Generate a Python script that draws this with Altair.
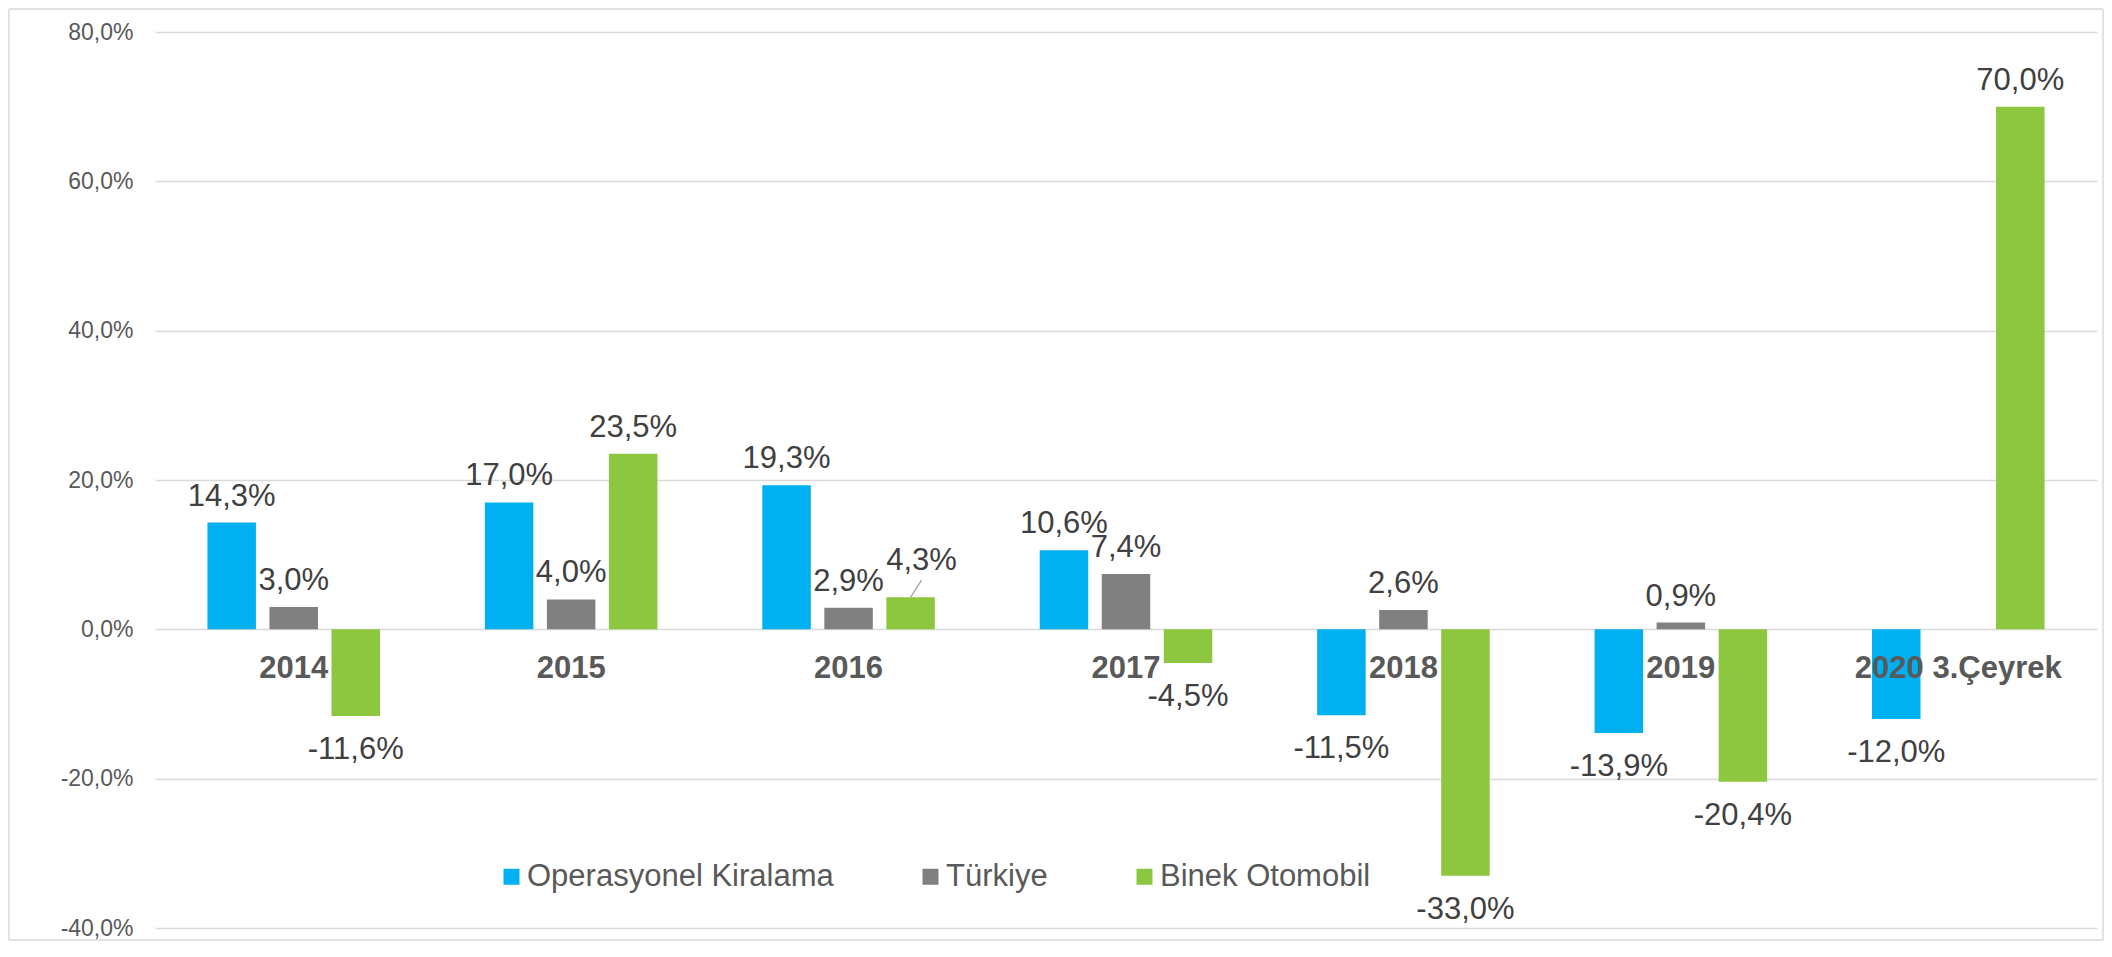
import altair as alt
import pandas as pd

# ---- data ----
categories = ["2014", "2015", "2016", "2017", "2018", "2019", "2020 3.Çeyrek"]
series_names = ["Operasyonel Kiralama", "Türkiye", "Binek Otomobil"]
operasyonel = [14.3, 17.0, 19.3, 10.6, -11.5, -13.9, -12.0]
turkiye = [3.0, 4.0, 2.9, 7.4, 2.6, 0.9, None]
binek = [-11.6, 23.5, 4.3, -4.5, -33.0, -20.4, 70.0]
y_ticks = [-40, -20, 0, 20, 40, 60, 80]
colors = ["#00B0F0", "#808080", "#8DC63F"]

rows = []
for s, vals in zip(series_names, [operasyonel, turkiye, binek]):
    for c, v in zip(categories, vals):
        if v is not None:
            rows.append({"cat": c, "series": s, "value": v})
df = pd.DataFrame(rows)
cat_df = pd.DataFrame({"cat": categories})
one_df = pd.DataFrame({"a": [0]})

W, H = 1942, 896
FONT = "Liberation Sans"
lbl_expr = ("(datum.value < 0 ? '-' : '') + "
            "replace(format(abs(datum.value), '.1f'), '.', ',') + '%'")

x_enc = alt.X("cat:N", sort=categories,
              scale=alt.Scale(domain=categories, paddingInner=0.378, paddingOuter=0.189),
              axis=None)
xo_enc = alt.XOffset("series:N",
                     scale=alt.Scale(domain=series_names, paddingInner=0.218, paddingOuter=0))
y_scale = alt.Scale(domain=[-40, 80], nice=False, zero=False)

bars = alt.Chart(df).transform_calculate(zero="0").mark_bar().encode(
    x=x_enc,
    xOffset=xo_enc,
    y=alt.Y("value:Q", scale=y_scale,
            axis=alt.Axis(values=y_ticks, labelExpr=lbl_expr, grid=True,
                          gridColor="#D9D9D9", gridWidth=1.3, domain=False, ticks=False,
                          labelFontSize=23, labelColor="#595959", labelFont=FONT,
                          labelPadding=22, title=None)),
    y2=alt.Y2("zero:Q"),
    color=alt.Color("series:N", sort=series_names,
                    scale=alt.Scale(domain=series_names, range=colors),
                    legend=alt.Legend(orient="none", legendX=341, legendY=829,
                                      direction="horizontal", title=None,
                                      symbolType="square", symbolSize=256,
                                      symbolStrokeWidth=0, labelFontSize=31,
                                      labelFont=FONT, labelColor="#595959",
                                      labelOffset=0, columnPadding=81, padding=0,
                                      labelLimit=0)),
)

special = "datum.cat == '2016' && datum.series == 'Binek Otomobil'"

pos_labels = alt.Chart(df).transform_filter(
    f"datum.value >= 0 && !({special})"
).transform_calculate(lbl=lbl_expr).mark_text(
    fontSize=31, font=FONT, color="#404040", baseline="alphabetic", dy=-17
).encode(
    x=x_enc, xOffset=xo_enc,
    y=alt.Y("value:Q", scale=y_scale),
    text="lbl:N",
)

neg_labels = alt.Chart(df).transform_filter(
    "datum.value < 0"
).transform_calculate(lbl=lbl_expr).mark_text(
    fontSize=31, font=FONT, color="#404040", baseline="alphabetic", dy=43
).encode(
    x=x_enc, xOffset=xo_enc,
    y=alt.Y("value:Q", scale=y_scale),
    text="lbl:N",
)

special_label = alt.Chart(df).transform_filter(special).transform_calculate(
    lbl=lbl_expr
).mark_text(
    fontSize=31, font=FONT, color="#404040", baseline="alphabetic", dx=11, dy=-27
).encode(
    x=x_enc, xOffset=xo_enc,
    y=alt.Y("value:Q", scale=y_scale),
    text="lbl:N",
)

leader = alt.Chart(df).transform_filter(special).mark_rule(
    color="#A6A6A6", strokeWidth=1.3, x2Offset=73, y2Offset=-17
).encode(
    x=x_enc, xOffset=xo_enc,
    y=alt.Y("value:Q", scale=y_scale),
    x2=alt.X2("cat"),
    y2=alt.Y2("value"),
)

cat_labels = alt.Chart(cat_df).transform_calculate(zero="0").mark_text(
    fontSize=31, font=FONT, fontWeight="bold", color="#595959",
    baseline="alphabetic", dy=49
).encode(
    x=x_enc,
    y=alt.Y("zero:Q", scale=y_scale),
    text="cat:N",
)

# outer chart border drawn as four rules
BL, BR, BT, BB = -146, 1948, -23, 908
border_style = dict(color="#D9D9D9", strokeWidth=1.5)
b_top = alt.Chart(one_df).mark_rule(**border_style).encode(
    x=alt.value(BL), x2=alt.value(BR), y=alt.value(BT), y2=alt.value(BT))
b_bot = alt.Chart(one_df).mark_rule(**border_style).encode(
    x=alt.value(BL), x2=alt.value(BR), y=alt.value(BB), y2=alt.value(BB))
b_left = alt.Chart(one_df).mark_rule(**border_style).encode(
    x=alt.value(BL), x2=alt.value(BL), y=alt.value(BT), y2=alt.value(BB))
b_right = alt.Chart(one_df).mark_rule(**border_style).encode(
    x=alt.value(BR), x2=alt.value(BR), y=alt.value(BT), y2=alt.value(BB))

chart = alt.layer(
    bars, leader, pos_labels, neg_labels, special_label, cat_labels,
    b_top, b_bot, b_left, b_right
).properties(
    width=W, height=H,
    autosize=alt.AutoSizeParams(type="none"),
    padding={"left": 147, "top": 24, "right": 7, "bottom": 14},
    background="white",
).configure_view(strokeWidth=0)

chart.save("out.html", embed_options={"renderer": "svg", "actions": False})
